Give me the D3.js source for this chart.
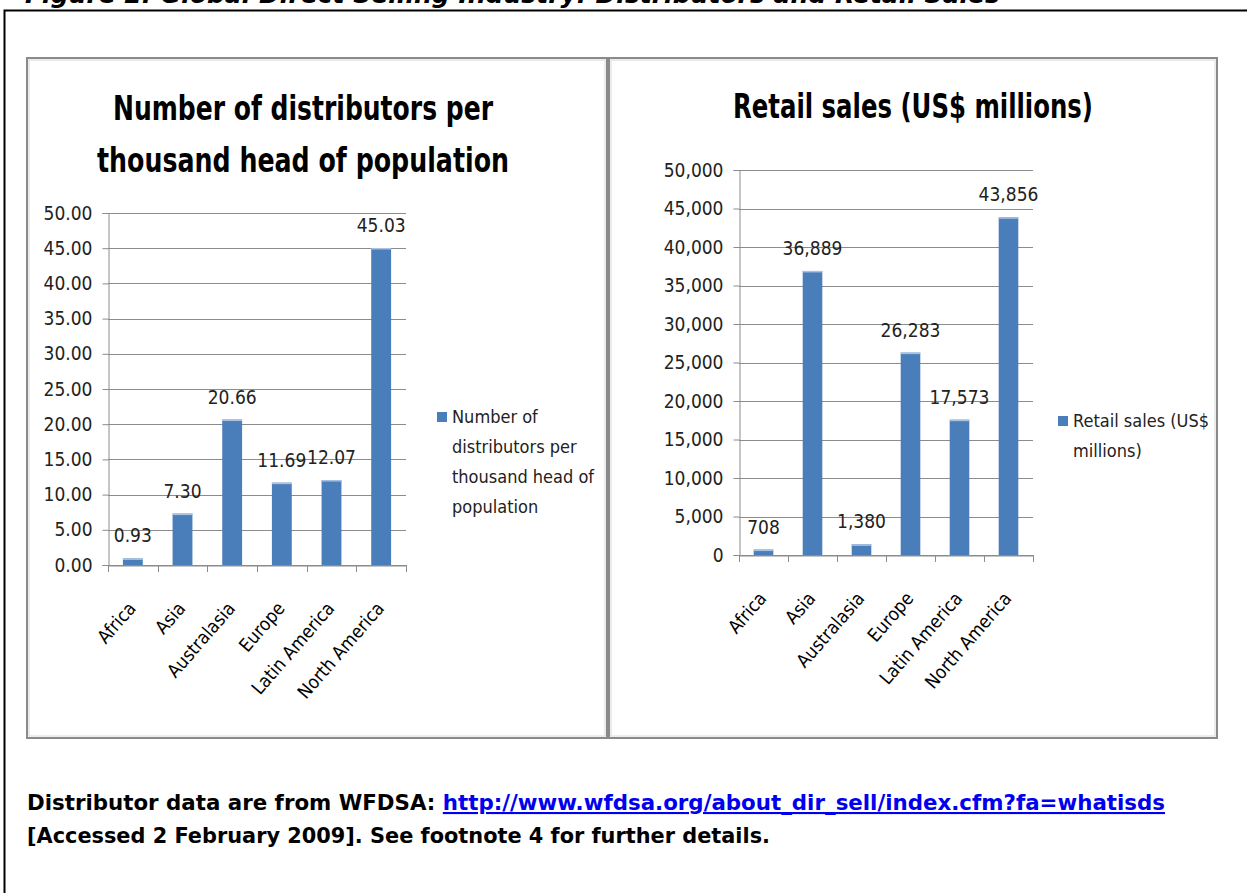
<!DOCTYPE html>
<html><head><meta charset="utf-8">
<script src="https://cdn.jsdelivr.net/npm/d3@7"></script>
<style>
body{margin:0;background:#fff;}
svg{display:block;}
.f{font-family:'DejaVu Sans Condensed','DejaVu Sans',sans-serif;}
</style></head>
<body>
<svg id="c" width="1247" height="893"></svg>
<script>
const categories = ["Africa","Asia","Australasia","Europe","Latin America","North America"];
const distributors = [0.93, 7.30, 20.66, 11.69, 12.07, 45.03];
const retailSales = [708, 36889, 1380, 26283, 17573, 43856];
const distTicks = [0,5,10,15,20,25,30,35,40,45,50];
const salesTicks = [0,5000,10000,15000,20000,25000,30000,35000,40000,45000,50000];
const figTitle = "Figure 2: Global Direct Selling Industry: Distributors and Retail Sales";
const leftTitle = ["Number of distributors per","thousand head of population"];
const rightTitle = ["Retail sales (US$ millions)"];
const leftLegend = ["Number of","distributors per","thousand head of","population"];
const rightLegend = ["Retail sales (US$","millions)"];
const footer1a = "Distributor data are from WFDSA: ";
const footer1b = "http://www.wfdsa.org/about_dir_sell/index.cfm?fa=whatisds";
const footer2 = "[Accessed 2 February 2009]. See footnote 4 for further details.";

const svg = d3.select("#c");
const BLUE = "#4a7ebb";

function fitText(sel, w){
  sel.attr("textLength",w).attr("lengthAdjust","spacingAndGlyphs");
}

// figure title (cut off at top, as in the source)
const ft = svg.append("text").attr("x",25).attr("y",3)
  .attr("font-family","'DejaVu Sans',sans-serif").attr("font-weight","bold").attr("font-style","italic")
  .attr("font-size",24).text(figTitle);
fitText(ft, 975);

// outer frame
svg.append("rect").attr("x",4.5).attr("y",10.5).attr("width",1260).attr("height",900)
  .attr("fill","none").attr("stroke","#000").attr("stroke-width",2);

function panel(cfg){
  const g = svg.append("g");
  g.append("rect").attr("x",cfg.px).attr("y",cfg.py).attr("width",cfg.pw).attr("height",cfg.ph)
    .attr("fill","#fff").attr("stroke","#8a8a8a").attr("stroke-width",2);
  g.append("rect").attr("x",cfg.px+2).attr("y",cfg.py+2).attr("width",cfg.pw-4).attr("height",cfg.ph-4)
    .attr("fill","none").attr("stroke","#d8d8d8").attr("stroke-width",1);
  // title
  cfg.title.forEach((t,i)=>{
    const tt = g.append("text").attr("class","f").attr("x",cfg.tx).attr("y",cfg.ty+i*52)
      .attr("text-anchor","middle").attr("font-size",cfg.tfs).attr("font-weight","bold").attr("fill","#000").text(t);
    fitText(tt, cfg.tw[i]);
  });
  const x = d3.scaleBand().domain(categories).range([cfg.x0,cfg.x1]).paddingInner(0.6).paddingOuter(0.3);
  const xb = d3.scaleBand().domain(categories).range([cfg.x0,cfg.x1]);
  const y = d3.scaleLinear().domain([0,cfg.ymax]).range([cfg.y0,cfg.y1]);
  // gridlines
  g.selectAll(".grid").data(cfg.ticks).join("line")
    .attr("x1",cfg.x0).attr("x2",cfg.x1).attr("y1",d=>Math.round(y(d))+0.5).attr("y2",d=>Math.round(y(d))+0.5)
    .attr("stroke","#8c8c8c").attr("stroke-width",1);
  // y axis
  const ya = g.append("g").attr("transform",`translate(${cfg.x0+0.5},0)`)
    .call(d3.axisLeft(y).tickValues(cfg.ticks).tickFormat(cfg.fmt).tickSize(6).tickPadding(10));
  ya.select(".domain").attr("stroke","#8c8c8c");
  ya.selectAll(".tick line").attr("stroke","#8c8c8c");
  ya.selectAll(".tick text").attr("class","f").attr("font-size",19).attr("fill","#222");
  // bars
  g.selectAll(".bar").data(cfg.values).join("rect")
    .attr("x",(d,i)=>x(categories[i])).attr("width",x.bandwidth())
    .attr("y",d=>y(d)).attr("height",d=>cfg.y0-y(d)).attr("fill",BLUE);
  g.selectAll(".bartop").data(cfg.values).join("rect")
    .attr("x",(d,i)=>x(categories[i])).attr("width",x.bandwidth())
    .attr("y",d=>y(d)).attr("height",1.5).attr("fill","#a9c1e0");
  // x axis
  const xa = g.append("g").attr("transform",`translate(0,${cfg.y0+0.5})`)
    .call(d3.axisBottom(xb).tickValues([]).tickSize(0));
  xa.select(".domain").attr("stroke","#8c8c8c");
  const bounds = categories.map(c=>xb(c)).concat([cfg.x1]);
  g.selectAll(".xt").data(bounds).join("line")
    .attr("x1",d=>Math.round(d)+0.5).attr("x2",d=>Math.round(d)+0.5).attr("y1",cfg.y0).attr("y2",cfg.y0+7)
    .attr("stroke","#8c8c8c");
  // value labels
  g.selectAll(".vl").data(cfg.values).join("text").attr("class","f")
    .attr("x",(d,i)=>xb(categories[i])+xb.bandwidth()/2).attr("y",d=>y(d)-16)
    .attr("text-anchor","middle").attr("font-size",19).attr("fill","#222").text(cfg.lfmt);
  // category labels
  g.selectAll(".cl").data(categories).join("text").attr("class","f")
    .attr("transform",d=>`translate(${xb(d)+xb.bandwidth()/2+4},${cfg.y0+44}) rotate(-49)`)
    .attr("text-anchor","end").attr("font-size",18.5).attr("fill","#000").text(d=>d);
  // legend
  g.append("rect").attr("x",cfg.lx).attr("y",cfg.ly).attr("width",10).attr("height",10).attr("fill",BLUE);
  cfg.legend.forEach((t,i)=>{
    g.append("text").attr("class","f").attr("x",cfg.lx+15).attr("y",cfg.ly+11+i*30)
      .attr("font-size",18).attr("fill","#222").text(t);
  });
}

panel({px:27,py:58,pw:580,ph:680,title:leftTitle,tx:303,ty:120,tfs:34,tw:[380,412],
  x0:108,x1:406,y0:565,y1:213,ymax:50,ticks:distTicks,values:distributors,
  fmt:d3.format(".2f"),lfmt:d3.format(".2f"),legend:leftLegend,lx:437,ly:412});
panel({px:609,py:58,pw:608,ph:680,title:rightTitle,tx:913,ty:118,tfs:34,tw:[360],
  x0:739,x1:1033,y0:555,y1:170,ymax:50000,ticks:salesTicks,values:retailSales,
  fmt:d3.format(","),lfmt:d3.format(","),legend:rightLegend,lx:1058,ly:416});

// footer
const ff = "'DejaVu Sans',sans-serif";
const t1 = svg.append("text").attr("x",27).attr("y",810).attr("font-family",ff).attr("font-weight","bold").attr("font-size",21);
t1.append("tspan").attr("fill","#000").text(footer1a);
t1.append("tspan").attr("fill","#0000ee").attr("text-decoration","underline").text(footer1b);
fitText(t1, 1138);
const t2 = svg.append("text").attr("x",27).attr("y",843).attr("font-family",ff).attr("font-weight","bold").attr("font-size",21)
  .attr("fill","#000").text(footer2);
fitText(t2, 743);
</script>
</body></html>
